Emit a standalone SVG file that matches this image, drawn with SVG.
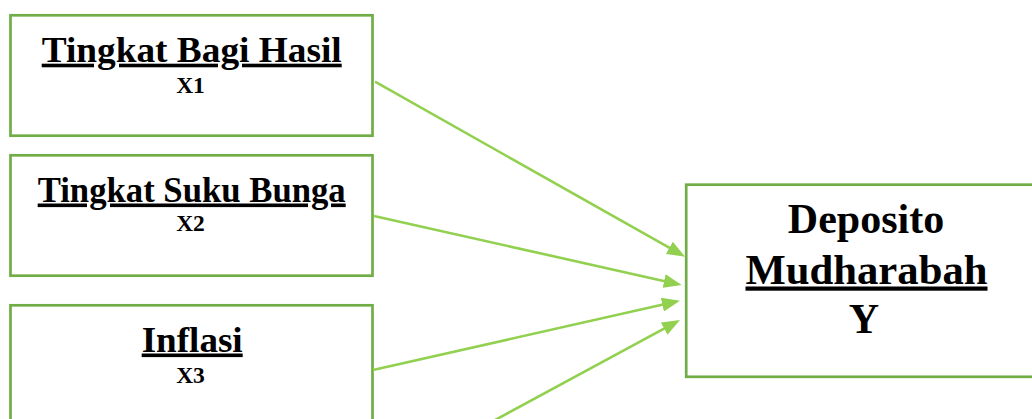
<svg xmlns="http://www.w3.org/2000/svg" width="1032" height="419" viewBox="0 0 1032 419">
  <style>
    .box { fill: #ffffff; stroke: #70AD47; stroke-width: 2.7; }
    .title { font-family: "Liberation Serif", "Times New Roman", serif; font-weight: bold; font-size: 36px; text-anchor: middle; fill: #000; text-decoration: underline; }
    .sub { font-family: "Liberation Serif", "Times New Roman", serif; font-weight: bold; font-size: 23.5px; text-anchor: middle; fill: #000; }
    .big { font-family: "Liberation Serif", "Times New Roman", serif; font-weight: bold; font-size: 42px; text-anchor: middle; fill: #000; }
    .conn { stroke: #92D050; stroke-width: 2.6; fill: none; marker-end: url(#arrow); }
  </style>
  <defs>
    <marker id="arrow" markerUnits="userSpaceOnUse" markerWidth="18" markerHeight="14" refX="12" refY="7" orient="auto">
      <path d="M0,0 L18,7 L0,14 Z" fill="#92D050"/>
    </marker>
  </defs>
  <rect width="1032" height="419" fill="#ffffff"/>

  <g id="node-x1">
    <rect class="box" x="10.5" y="15.3" width="362" height="120.4"/>
    <text class="title" x="191.7" y="61.7" textLength="300" lengthAdjust="spacingAndGlyphs">Tingkat Bagi Hasil</text>
    <text class="sub" x="190.5" y="93">X1</text>
  </g>

  <g id="node-x2">
    <rect class="box" x="10.5" y="155.3" width="362" height="120.4"/>
    <text class="title" x="191.7" y="201.5" textLength="308" lengthAdjust="spacingAndGlyphs">Tingkat Suku Bunga</text>
    <text class="sub" x="190.5" y="230.5">X2</text>
  </g>

  <g id="node-x3">
    <rect class="box" x="10.5" y="305.3" width="362" height="140"/>
    <text class="title" x="192.2" y="351.5" textLength="101" lengthAdjust="spacingAndGlyphs">Inflasi</text>
    <text class="sub" x="190.5" y="383.3">X3</text>
  </g>

  <g id="node-y">
    <rect class="box" x="686.2" y="184.7" width="360" height="192.1"/>
    <text class="big" x="866" y="233">Deposito</text>
    <text class="big" x="866.5" y="283.5" text-decoration="underline" textLength="242" lengthAdjust="spacingAndGlyphs">Mudharabah</text>
    <text class="big" x="864" y="332.7">Y</text>
  </g>

  <g id="connectors">
    <line class="conn" x1="375" y1="81.7" x2="679.8" y2="253.7"/>
    <line class="conn" x1="374" y1="216" x2="675.8" y2="283.7"/>
    <line class="conn" x1="373" y1="370" x2="674.1" y2="302"/>
    <line class="conn" x1="373" y1="486" x2="674.7" y2="322.9"/>
  </g>
</svg>
